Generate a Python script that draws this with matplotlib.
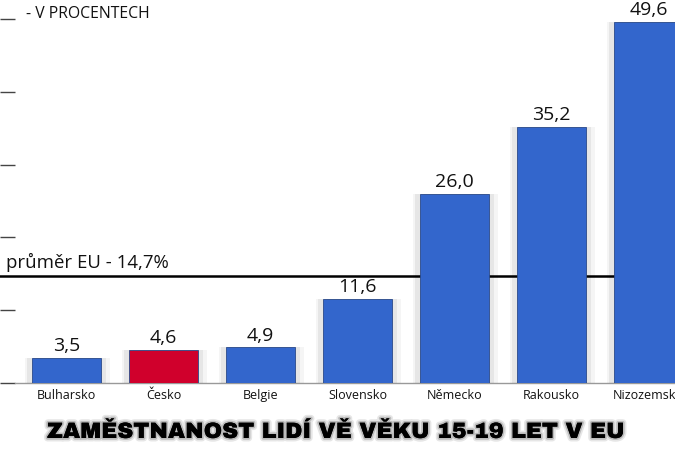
import matplotlib
matplotlib.use("Agg")
import matplotlib.pyplot as plt
import matplotlib.patheffects as pe

# data
countries = ["Bulharsko", "Česko", "Belgie", "Slovensko", "Německo", "Rakousko", "Nizozemsko"]
values = [3.5, 4.6, 4.9, 11.6, 26.0, 35.2, 49.6]
highlight = "Česko"
eu_avg = 14.7
yticks = [0, 10, 20, 30, 40, 50]

blue = "#3366cc"
red = "#d0002c"

fig = plt.figure(figsize=(6.75, 4.5), dpi=100)
ax = fig.add_axes([15 / 675, 67 / 450, 660 / 675, 383 / 450])

colors = [red if c == highlight else blue for c in countries]
x = list(range(len(countries)))
bars = ax.bar(x, values, width=0.72, color=colors, edgecolor="#2a4a8a", linewidth=0.6, zorder=3)

# soft shadow round the bars
for b in bars:
    b.set_path_effects([
        pe.SimplePatchShadow(offset=(6, 0), shadow_rgbFace="#000000", alpha=0.04),
        pe.SimplePatchShadow(offset=(-5, 0), shadow_rgbFace="#000000", alpha=0.04),
        pe.SimplePatchShadow(offset=(3, 0), shadow_rgbFace="#000000", alpha=0.06),
        pe.SimplePatchShadow(offset=(-3, 0), shadow_rgbFace="#000000", alpha=0.06),
        pe.Normal(),
    ])

for xi, v in zip(x, values):
    ax.text(xi, v + 0.35, f"{v:.1f}".replace(".", ","), ha="center", va="bottom",
            fontsize=14, family="Open Sans", color="#111111", zorder=4)

ax.axhline(eu_avg, xmin=-0.023, xmax=1, color="black", lw=1.8, clip_on=False, zorder=2)
ax.text(-0.625, eu_avg + 0.5, "průměr EU - 14,7%", ha="left", va="bottom",
        fontsize=13.4, family="Open Sans", color="#111111", clip_on=False)

ax.set_xlim(-0.531, 6.273)
ax.set_ylim(0, 52.6)
ax.set_yticks(yticks)
ax.set_yticklabels([])
ax.tick_params(axis="y", direction="out", length=10.8, width=1, color="#444444")
ax.set_xticks(x)
ax.set_xticklabels(countries, fontsize=9, family="Open Sans", color="#111111")
ax.tick_params(axis="x", length=0, pad=4)

for s in ["top", "right", "left"]:
    ax.spines[s].set_visible(False)
ax.spines["bottom"].set_color("#999999")
ax.spines["bottom"].set_linewidth(1)

fig.text(26 / 675, 1 - 14 / 450, "- V PROCENTECH", ha="left", va="center",
         fontsize=11.3, family="Open Sans", color="#111111")

title = fig.text(0.497, 1 - 432 / 450, "ZAMĚSTNANOST LIDÍ VĚ VĚKU 15-19 LET V EU",
                 ha="center", va="center", fontsize=16,
                 family=["Archivo Black", "DejaVu Sans"], color="black")
title.set_path_effects([pe.withStroke(linewidth=5, foreground="#e6e6e6"),
                        pe.withStroke(linewidth=2.5, foreground="#bbbbbb"), pe.Normal()])

fig.savefig("out.png", dpi=100)
